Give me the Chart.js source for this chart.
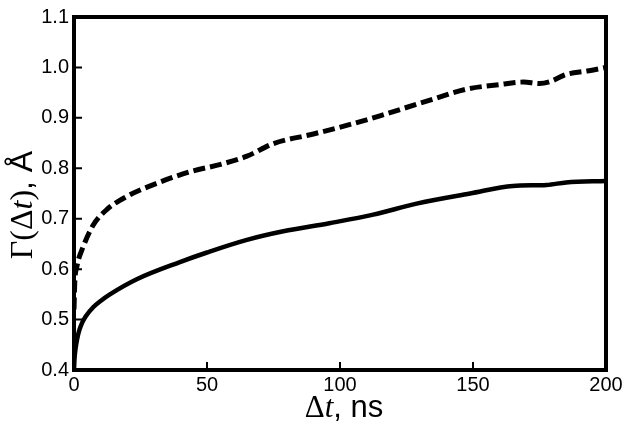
<!DOCTYPE html>
<html>
<head>
<meta charset="utf-8">
<script src="https://cdn.jsdelivr.net/npm/chart.js@4.4.1/dist/chart.umd.min.js"></script>
<style>
  html, body { margin: 0; padding: 0; background: #fff; }
</style>
</head>
<body>
<canvas id="gammaChart" width="629" height="430"></canvas>
<script>
// time lag, ns  /  Gamma(dt), Angstrom
var solidT = [0, 0.2, 0.6, 1.2, 2, 3, 4.5, 7.3, 10, 13.5, 23.6, 39.8, 50, 65, 78.7, 96, 112.5, 128.8, 148.9, 165, 177.7, 185, 200];
var solidV = [0.40, 0.423, 0.443, 0.462, 0.479, 0.493, 0.507, 0.525, 0.537, 0.550, 0.580, 0.614, 0.633, 0.658, 0.675, 0.691, 0.708, 0.730, 0.750, 0.765, 0.767, 0.772, 0.775];

var dashT = [0, 0.3, 1.0, 3.5, 7.3, 12.3, 19.8, 31, 43.6, 56, 65, 75, 90, 102.5, 115, 128.8, 135, 147.6, 160, 169, 175, 179, 185, 193, 200];
var dashV = [0.52, 0.575, 0.603, 0.645, 0.688, 0.718, 0.744, 0.770, 0.793, 0.809, 0.824, 0.849, 0.868, 0.885, 0.904, 0.927, 0.937, 0.957, 0.966, 0.971, 0.968, 0.972, 0.986, 0.993, 1.0];

var xTicks = [0, 50, 100, 150, 200];
var yTicks = [0.4, 0.5, 0.6, 0.7, 0.8, 0.9, 1.0, 1.1];

var serif = '"Liberation Serif", "DejaVu Serif", serif';
var sans = '"Liberation Sans", Arial, sans-serif';

// axis titles, mixed fonts like the original figure
var xTitle = [
    { t: 'Δ', f: '31px ' + serif },
    { t: 't', f: 'italic 31px ' + serif },
    { t: ', ns', f: '31px ' + sans }
];
var yTitle = [
    { t: 'Γ(Δ', f: '32px ' + serif },
    { t: 't', f: 'italic 32px ' + serif },
    { t: ')', f: '32px ' + serif },
    { t: ', Å', f: '32px ' + sans }
];

function toPoints(xs, ys) {
    return xs.map(function (v, i) { return { x: v, y: ys[i] }; });
}

function drawRuns(ctx, runs, cx, baseY) {
    var total = 0;
    runs.forEach(function (r) { ctx.font = r.f; total += ctx.measureText(r.t).width; });
    var x = cx - total / 2;
    ctx.textAlign = 'left';
    ctx.textBaseline = 'alphabetic';
    runs.forEach(function (r) {
        ctx.font = r.f;
        ctx.fillText(r.t, x, baseY);
        x += ctx.measureText(r.t).width;
    });
}

var framePlugin = {
    id: 'frame',
    afterDraw: function (chart) {
        var ctx = chart.ctx, a = chart.chartArea;
        var xs = chart.scales.x, ys = chart.scales.y;
        ctx.save();
        ctx.strokeStyle = '#000';
        ctx.fillStyle = '#000';
        ctx.lineWidth = 4;
        ctx.strokeRect(a.left, a.top, a.right - a.left, a.bottom - a.top);
        // inward ticks on bottom and left
        ctx.lineWidth = 2;
        ctx.beginPath();
        xTicks.forEach(function (v) {
            var px = xs.getPixelForValue(v);
            ctx.moveTo(px, a.bottom);
            ctx.lineTo(px, a.bottom - 8);
        });
        yTicks.forEach(function (v) {
            var py = ys.getPixelForValue(v);
            ctx.moveTo(a.left, py);
            ctx.lineTo(a.left + 8, py);
        });
        ctx.stroke();
        // titles
        drawRuns(ctx, xTitle, (a.left + a.right) / 2 + 4, 417);
        ctx.translate(32, 205);
        ctx.rotate(-Math.PI / 2);
        drawRuns(ctx, yTitle, 0, 0);
        ctx.restore();
    }
};

var graph = document.querySelector('#gammaChart');
var myChart = new Chart(graph, {
    type: 'line',
    data: {
        datasets: [
            {
                data: toPoints(solidT, solidV),
                borderColor: '#000',
                borderWidth: 4.5,
                pointRadius: 0,
                fill: false,
                cubicInterpolationMode: 'monotone'
            },
            {
                data: toPoints(dashT, dashV),
                borderColor: '#000',
                borderWidth: 5,
                borderDash: [12, 5],
                pointRadius: 0,
                fill: false,
                cubicInterpolationMode: 'monotone'
            }
        ]
    },
    options: {
        responsive: false,
        animation: false,
        layout: { padding: { top: 14, right: 23, left: 0, bottom: 0 } },
        plugins: {
            legend: { display: false },
            tooltip: { enabled: false }
        },
        scales: {
            x: {
                type: 'linear',
                min: 0,
                max: 200,
                afterFit: function (s) { s.height = 60; },
                afterBuildTicks: function (s) { s.ticks = xTicks.map(function (v) { return { value: v }; }); },
                grid: { display: false, drawTicks: false },
                border: { display: false },
                ticks: {
                    color: '#000',
                    padding: 3,
                    maxRotation: 0,
                    font: { family: sans, size: 20 }
                }
            },
            y: {
                type: 'linear',
                min: 0.4,
                max: 1.1,
                afterFit: function (s) { s.width = 74; },
                afterBuildTicks: function (s) { s.ticks = yTicks.map(function (v) { return { value: v }; }); },
                grid: { display: false, drawTicks: false },
                border: { display: false },
                ticks: {
                    color: '#000',
                    padding: 5,
                    font: { family: sans, size: 20 },
                    callback: function (v) { return v.toFixed(1); }
                }
            }
        }
    },
    plugins: [framePlugin]
});
</script>
</body>
</html>
